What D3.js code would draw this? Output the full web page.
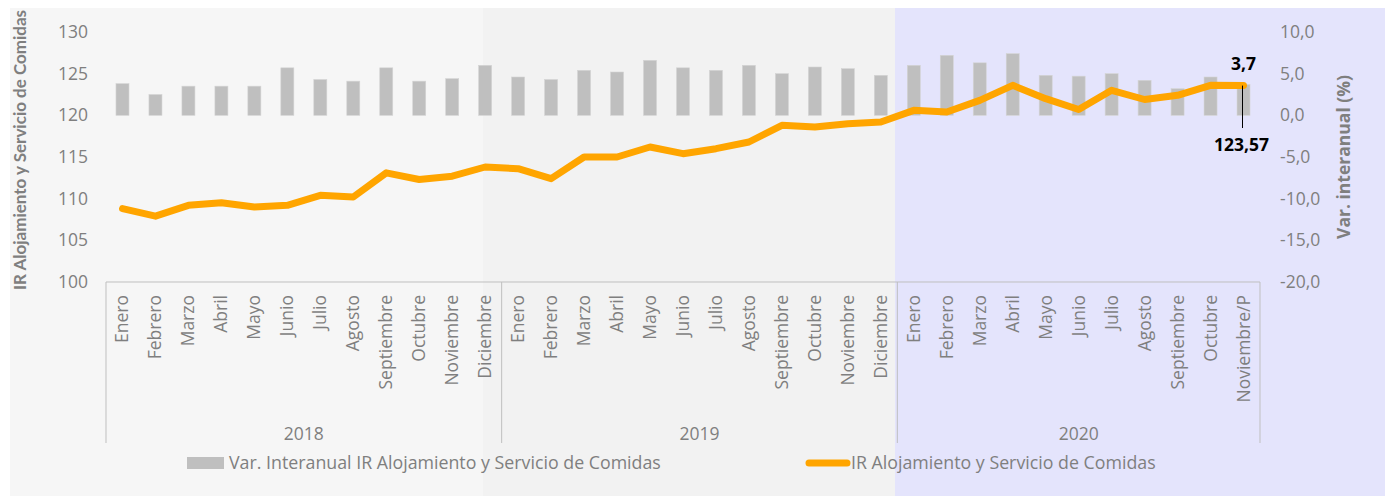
<!DOCTYPE html>
<html>
<head>
<meta charset="utf-8">
<script src="https://cdn.jsdelivr.net/npm/d3@7"></script>
<style>
  body { margin: 0; background: #ffffff; }
  svg { display: block; font-family: "Open Sans", Lato, sans-serif; }
</style>
</head>
<body>
<div id="chart"></div>
<script>
// Years shown on the bottom axis and the month names under each year
var years = ['2018', '2019', '2020'];
var months = ['Enero', 'Febrero', 'Marzo', 'Abril', 'Mayo', 'Junio', 'Julio',
              'Agosto', 'Septiembre', 'Octubre', 'Noviembre', 'Diciembre'];
var months2020 = ['Enero', 'Febrero', 'Marzo', 'Abril', 'Mayo', 'Junio', 'Julio',
                  'Agosto', 'Septiembre', 'Octubre', 'Noviembre/P'];

// Var. interanual (%) - bars, right axis
var varInteranual = [3.8, 2.5, 3.5, 3.5, 3.5, 5.7, 4.3, 4.1, 5.7, 4.1, 4.4, 6.0,
                     4.6, 4.3, 5.4, 5.2, 6.6, 5.7, 5.4, 6.0, 5.0, 5.8, 5.6, 4.8,
                     6.0, 7.2, 6.3, 7.4, 4.8, 4.7, 5.0, 4.2, 3.2, 4.6, 3.7];
// IR Alojamiento y Servicio de Comidas - line, left axis
var indice = [108.8, 107.9, 109.2, 109.5, 109.0, 109.2, 110.4, 110.2, 113.1, 112.3, 112.7, 113.8,
              113.6, 112.4, 115.0, 115.0, 116.2, 115.4, 116.0, 116.8, 118.8, 118.6, 119.0, 119.2,
              120.6, 120.4, 121.8, 123.6, 122.0, 120.7, 123.0, 121.9, 122.4, 123.6, 123.57];

var leftTicks = [100, 105, 110, 115, 120, 125, 130];
var rightTicks = [-20, -15, -10, -5, 0, 5, 10];

var width = 1387, height = 498;

// Build flat category list
var DATA = [];
years.forEach(function(y) {
    var list = (y === '2020') ? months2020 : months;
    list.forEach(function(m) { DATA.push({ year: y, month: m }); });
});
DATA.forEach(function(d, i) {
    d.key = d.year + '-' + d.month;
    d.bar = varInteranual[i];
    d.ir = indice[i];
});

var esLocale = d3.formatLocale({ decimal: ',', thousands: '.', grouping: [3], currency: ['', ''], minus: '-' });
var fmt1 = esLocale.format('.1f');
var fmt2 = esLocale.format('.2f');

var svg = d3.select('#chart').append('svg')
    .attr('width', width)
    .attr('height', height);

// background panels
var panels = [
    { x0: 10, x1: 483, fill: '#f6f6f6' },
    { x0: 483, x1: 895, fill: '#f2f2f2' },
    { x0: 895, x1: 1385, fill: '#e4e4fc' }
];
svg.selectAll('rect.panel').data(panels).enter().append('rect')
    .attr('class', 'panel')
    .attr('x', function(d) { return d.x0; })
    .attr('y', 8)
    .attr('width', function(d) { return d.x1 - d.x0; })
    .attr('height', 488)
    .attr('fill', function(d) { return d.fill; });

var plotLeft = 106, plotRight = 1260, plotTop = 32, plotBottom = 282;

var x = d3.scaleBand()
    .domain(DATA.map(function(d) { return d.key; }))
    .range([plotLeft, plotRight]);
var yL = d3.scaleLinear().domain([100, 130]).range([plotBottom, plotTop]);
var yR = d3.scaleLinear().domain([-20, 10]).range([plotBottom, plotTop]);

var barW = 13;

// bars
svg.selectAll('rect.bar').data(DATA).enter().append('rect')
    .attr('class', 'bar')
    .attr('x', function(d) { return x(d.key) + x.bandwidth() / 2 - barW / 2; })
    .attr('y', function(d) { return yR(Math.max(0, d.bar)); })
    .attr('width', barW)
    .attr('height', function(d) { return Math.abs(yR(d.bar) - yR(0)); })
    .attr('fill', '#bfbfbf')
    .attr('stroke', '#d4d4d4')
    .attr('stroke-width', 0.6);

// line
var line = d3.line()
    .x(function(d) { return x(d.key) + x.bandwidth() / 2; })
    .y(function(d) { return yL(d.ir); });
svg.append('path')
    .datum(DATA)
    .attr('d', line)
    .attr('fill', 'none')
    .attr('stroke', '#ffa500')
    .attr('stroke-width', 7)
    .attr('stroke-linejoin', 'round')
    .attr('stroke-linecap', 'round');

// left axis
var axL = svg.append('g')
    .attr('transform', 'translate(' + 94 + ',0)')
    .call(d3.axisLeft(yL).tickValues(leftTicks).tickSize(0).tickPadding(6));
axL.select('.domain').remove();
axL.selectAll('text').attr('font-size', 17.5).attr('fill', '#7f7f7f').style('font-family', '"Open Sans"');

// right axis
var axR = svg.append('g')
    .attr('transform', 'translate(' + 1274 + ',0)')
    .call(d3.axisRight(yR).tickValues(rightTicks).tickSize(0).tickPadding(6).tickFormat(fmt1));
axR.select('.domain').remove();
axR.selectAll('text').attr('font-size', 17.5).attr('fill', '#7f7f7f').style('font-family', '"Open Sans"');

// category axis box
var boxBottom = 443;
svg.append('line')
    .attr('x1', plotLeft).attr('x2', plotRight)
    .attr('y1', plotBottom).attr('y2', plotBottom)
    .attr('stroke', '#bfbfbf').attr('stroke-width', 1);
var seps = [0, 12, 24, DATA.length];
svg.selectAll('line.sep').data(seps).enter().append('line')
    .attr('class', 'sep')
    .attr('x1', function(i) { return i < DATA.length ? x(DATA[i].key) : plotRight; })
    .attr('x2', function(i) { return i < DATA.length ? x(DATA[i].key) : plotRight; })
    .attr('y1', plotBottom)
    .attr('y2', boxBottom)
    .attr('stroke', '#bfbfbf')
    .attr('stroke-width', 1);

var axB = svg.append('g')
    .attr('transform', 'translate(0,' + plotBottom + ')')
    .call(d3.axisBottom(x).tickSize(0).tickFormat(function(k) {
        return k.split('-')[1];
    }));
axB.select('.domain').remove();
axB.selectAll('text')
    .attr('font-size', 17.5)
    .attr('fill', '#7f7f7f')
    .style('font-family', '"Open Sans"')
    .attr('text-anchor', 'end')
    .attr('dy', null)
    .attr('y', 0)
    .attr('transform', 'translate(6,13) rotate(-90)');

// year labels
svg.selectAll('text.year').data(years).enter().append('text')
    .attr('class', 'year')
    .attr('x', function(y, i) {
        var a = x(DATA[seps[i]].key);
        var b = seps[i + 1] < DATA.length ? x(DATA[seps[i + 1]].key) : plotRight;
        return (a + b) / 2;
    })
    .attr('y', 440)
    .attr('text-anchor', 'middle')
    .attr('font-size', 17.5)
    .attr('fill', '#7f7f7f')
    .text(function(y) { return y; });

// axis titles
svg.append('text')
    .attr('transform', 'translate(26,150) rotate(-90)')
    .attr('text-anchor', 'middle')
    .attr('font-size', 17)
    .attr('font-weight', 'bold')
    .attr('fill', '#7f7f7f')
    .style('font-family', 'Lato')
    .text('IR Alojamiento y Servicio de Comidas');
svg.append('text')
    .attr('transform', 'translate(1350,157) rotate(-90)')
    .attr('text-anchor', 'middle')
    .attr('font-size', 17.5)
    .attr('font-weight', 'bold')
    .attr('fill', '#7f7f7f')
    .text('Var. interanual (%)');

// annotations on the last point
var last = DATA[DATA.length - 1];
var lx = x(last.key) + x.bandwidth() / 2;
svg.append('line')
    .attr('x1', lx - 1).attr('x2', lx - 1)
    .attr('y1', yL(last.ir)).attr('y2', 128)
    .attr('stroke', '#000').attr('stroke-width', 1);
svg.append('text')
    .attr('x', lx).attr('y', 70)
    .attr('text-anchor', 'middle')
    .attr('font-size', 17.5).attr('font-weight', 'bold').attr('fill', '#000')
    .text(fmt1(last.bar));
svg.append('text')
    .attr('x', lx - 2).attr('y', 151)
    .attr('text-anchor', 'middle')
    .attr('font-size', 17.5).attr('font-weight', 'bold').attr('fill', '#000')
    .text(fmt2(last.ir));

// legend
var legend = svg.append('g').attr('transform', 'translate(0,463)');
legend.append('rect')
    .attr('x', 187).attr('y', -6).attr('width', 37).attr('height', 12)
    .attr('fill', '#bfbfbf');
legend.append('text')
    .attr('x', 229).attr('y', 6)
    .attr('font-size', 17.8).attr('fill', '#7f7f7f')
    .text('Var. Interanual IR Alojamiento y Servicio de Comidas');
legend.append('line')
    .attr('x1', 809).attr('x2', 847).attr('y1', 0).attr('y2', 0)
    .attr('stroke', '#ffa500').attr('stroke-width', 7).attr('stroke-linecap', 'round');
legend.append('text')
    .attr('x', 851).attr('y', 6)
    .attr('font-size', 17.8).attr('fill', '#7f7f7f')
    .text('IR Alojamiento y Servicio de Comidas');
</script>
</body>
</html>
